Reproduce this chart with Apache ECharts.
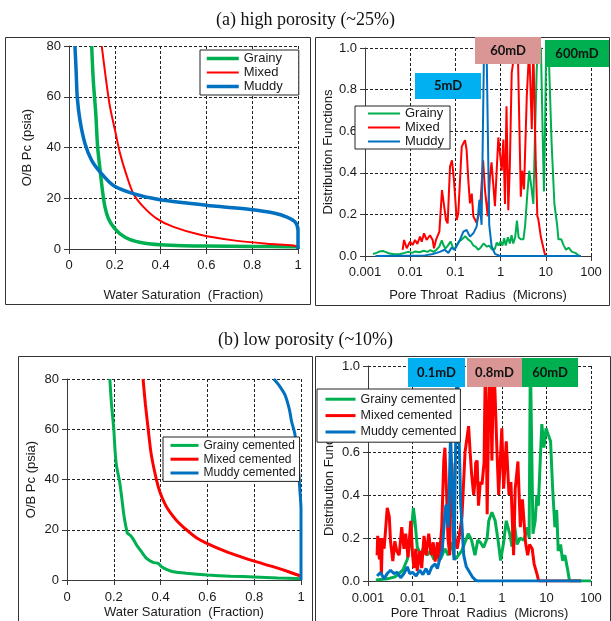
<!DOCTYPE html>
<html><head><meta charset="utf-8">
<script src="https://cdn.jsdelivr.net/npm/echarts@6/dist/echarts.min.js"></script>
<style>html,body{margin:0;padding:0;background:#fff}#c{width:611px;height:621px}</style>
</head><body><div id="c"></div>
<script>
// ---------- tick labels ----------
const satTickLabels = ['0','0.2','0.4','0.6','0.8','1'];
const pcTickLabels = ['0','20','40','60','80'];
const distTickLabels = ['0.0','0.2','0.4','0.6','0.8','1.0'];
const radiusTickLabels = ['0.001','0.01','0.1','1','10','100'];

// ---------- (a) capillary pressure ----------
const swGrainyA = [0.099,0.106,0.117,0.125,0.136,0.146,0.157,0.172,0.194,0.223,0.267,0.325,0.398,0.5,0.6,0.8,1.0,1.0];
const pcGrainyA = [80,66.5,53.3,40.2,31,23.1,16.6,12,8.7,6,3.7,2.4,1.7,1.3,1.2,1.0,0.8,0];
const swMixedA = [0.143,0.162,0.179,0.201,0.223,0.249,0.281,0.325,0.383,0.456,0.573,0.719,0.864,0.981,1.0];
const pcMixedA = [80,66.5,56,46.8,37.6,29.7,21.8,16.6,12,8.7,5.6,3.4,2.1,1.4,0.8];
const swMuddyA = [0.026,0.031,0.036,0.048,0.07,0.099,0.136,0.194,0.281,0.398,0.515,0.631,0.792,0.894,0.952,0.988,1.0,1.0];
const pcMuddyA = [80,70.4,59.9,50.7,41.5,34.9,30.3,25,21.8,19.4,18.1,16.9,15.6,14.2,12.6,10.6,7.4,0];

// ---------- (a) pore throat distributions ----------
const rGrainyA = [0.0015,0.0018,0.0021,0.0025,0.0028,0.0035,0.0045,0.006,0.0075,0.009,0.011,0.013,0.016,0.02,0.024,0.028,0.033,0.038,0.044,0.05,0.055,0.06,0.068,0.078,0.088,0.095,0.105,0.12,0.14,0.165,0.19,0.22,0.25,0.28,0.32,0.36,0.42,0.5,0.56,0.65,0.75,0.82,0.9,1.0,1.1,1.2,1.3,1.45,1.6,1.75,1.9,2.1,2.3,2.5,2.8,3.2,3.5,3.9,4.3,4.8,5.3,5.8,6.3,6.8,7.8,8.5,9.1,9.6,10.2,11.5,13.4,15.5,17.8,19,22,25,28,32,38,45,52,56];
const fGrainyA = [0.01,0.015,0.022,0.024,0.02,0.012,0.008,0.01,0.015,0.02,0.015,0.022,0.018,0.025,0.02,0.028,0.02,0.03,0.045,0.075,0.05,0.035,0.05,0.07,0.04,0.03,0.05,0.07,0.08,0.095,0.08,0.07,0.05,0.045,0.03,0.04,0.06,0.045,0.05,0.03,0.035,0.065,0.05,0.07,0.05,0.085,0.05,0.09,0.06,0.1,0.06,0.09,0.17,0.09,0.08,0.08,0.15,0.3,0.41,0.33,0.25,0.6,0.9,1.0,1.0,0.6,0.31,0.6,1.0,1.0,0.55,0.25,0.15,0.08,0.08,0.05,0.03,0.04,0.02,0.015,0.005,0];
const rMixedA = [0.0068,0.0073,0.0084,0.0099,0.0113,0.0128,0.0144,0.0165,0.018,0.0202,0.0231,0.0274,0.0314,0.0336,0.0372,0.0442,0.0505,0.054,0.062,0.0674,0.076,0.084,0.093,0.107,0.116,0.138,0.163,0.177,0.193,0.21,0.23,0.25,0.295,0.35,0.41,0.45,0.52,0.58,0.63,0.75,0.89,1.06,1.15,1.25,1.35,1.48,1.6,1.76,2.1,2.4,2.8,3.0,3.3,3.8,4.3,4.9,5.3,6.0,6.5,6.8,7.8,9.5,10];
const fMixedA = [0.029,0.077,0.037,0.069,0.053,0.077,0.058,0.093,0.069,0.109,0.077,0.1,0.077,0.037,0.077,0.117,0.317,0.31,0.173,0.157,0.43,0.46,0.365,0.173,0.205,0.526,0.557,0.51,0.365,0.253,0.3,0.19,0.16,0.22,0.46,0.32,0.19,0.38,0.45,0.24,0.57,0.41,0.56,0.25,0.72,0.22,0.43,0.88,1.0,1.0,0.285,0.41,0.32,0.77,1.0,0.61,1.0,0.45,0.19,0.18,0.09,0.01,0];
const rMuddyA = [0.0017,0.021,0.03,0.045,0.058,0.07,0.082,0.096,0.126,0.15,0.177,0.21,0.249,0.295,0.32,0.34,0.38,0.43,0.49,0.56,0.63,0.75,0.97,60];
const fMuddyA = [0,0.003,0.008,0.02,0.03,0.015,0.04,0.03,0.077,0.117,0.125,0.093,0.109,0.141,0.205,0.27,0.15,1.0,1.0,0.15,0.05,0.01,0,0];

// ---------- (b) capillary pressure ----------
const swGrainyB = [0.183,0.19,0.2,0.205,0.211,0.225,0.235,0.243,0.258,0.265,0.278,0.297,0.318,0.34,0.368,0.39,0.404,0.43,0.454,0.51,0.6,0.7,0.8,0.9,1.0];
const pcGrainyB = [80,70,60,52,45.8,39,32,25.9,18.6,18.2,17,14,11.3,8.6,7,6.6,5.3,4,3.3,2.7,2.0,1.5,1.2,0.8,0.5];
const swMixedB = [0.325,0.335,0.347,0.36,0.382,0.397,0.42,0.44,0.47,0.51,0.55,0.6,0.68,0.75,0.8,0.88,0.95,1.0];
const pcMixedB = [80,70,60,50,40,35,30,27,23.5,20,17,14.5,11.3,9,7.5,5.3,3.2,1.5];
const swMuddyB = [0.884,0.91,0.932,0.95,0.96,0.974,0.986,0.995,1.0,1.0];
const pcMuddyB = [80,77,73.6,68,63,58,48,36,28,0];

// ---------- (b) pore throat distributions ----------
const rGrainyB = [0.0015,0.0027,0.0041,0.006,0.0076,0.009,0.0104,0.0113,0.0127,0.015,0.018,0.021,0.025,0.03,0.035,0.042,0.053,0.063,0.074,0.088,0.107,0.126,0.15,0.177,0.21,0.25,0.29,0.33,0.39,0.47,0.51,0.6,0.71,0.85,0.94,1.1,1.26,1.5,1.7,1.84,2.2,2.6,3.1,3.6,3.8,4.1,4.37,4.8,5.0,5.6,6.1,6.6,7.2,7.9,8.8,9.8,11,12.4,13.8,15.5,17,18.4,20.8,23,26,29.5,33,100];
const fGrainyB = [0.005,0.01,0.02,0.05,0.1,0.19,0.34,0.28,0.16,0.12,0.16,0.12,0.14,0.1,0.12,0.1,0.15,0.12,0.18,0.1,0.12,0.14,0.18,0.22,0.19,0.12,0.19,0.18,0.156,0.2,0.28,0.32,0.28,0.17,0.095,0.18,0.28,0.22,0.16,0.29,0.17,0.2,0.19,0.23,0.25,0.2,1.05,1.05,0.22,0.28,0.4,0.35,0.54,0.73,0.62,0.71,0.68,0.65,0.43,0.25,0.33,0.14,0.17,0.095,0.12,0.06,0,0];
const rMixedB = [0.0016,0.00165,0.0017,0.0018,0.0019,0.002,0.0021,0.0023,0.0027,0.003,0.0032,0.0036,0.004,0.0044,0.005,0.0057,0.0064,0.007,0.0079,0.0091,0.01,0.0107,0.0118,0.0127,0.0144,0.016,0.018,0.02,0.023,0.026,0.029,0.032,0.036,0.039,0.045,0.05,0.053,0.058,0.062,0.068,0.072,0.076,0.082,0.09,0.1,0.11,0.128,0.15,0.18,0.195,0.21,0.234,0.25,0.26,0.28,0.3,0.33,0.36,0.4,0.43,0.47,0.51,0.55,0.6,0.66,0.71,0.78,0.85,0.92,1.0,1.1,1.26,1.45,1.6,1.84,2.0,2.3,2.6,2.9,3.4,3.8,4.2,4.8,5.3,6.2,6.7,60];
const fMixedB = [0.12,0.21,0.18,0.1,0.2,0.03,0.2,0.15,0.34,0.3,0.185,0.093,0.185,0.14,0.12,0.25,0.15,0.22,0.11,0.28,0.12,0.06,0.15,0.046,0.14,0.06,0.21,0.12,0.22,0.12,0.18,0.09,0.18,0.09,0.25,0.56,0.62,0.4,0.2,0.12,0.45,0.55,0.3,0.2,0.15,0.2,0.3,0.6,0.72,0.6,0.5,0.4,0.46,0.55,0.56,0.35,0.46,0.45,0.55,1.05,0.31,0.8,1.05,0.56,1.05,1.05,0.6,0.4,0.55,0.71,0.43,0.65,0.4,0.46,0.12,0.43,0.556,0.25,0.38,0.18,0.12,0.17,0.15,0.08,0.03,0,0];
const rMuddyB = [0.0016,0.0019,0.0023,0.0027,0.0032,0.0038,0.0045,0.0054,0.0064,0.0076,0.0086,0.01,0.012,0.0144,0.017,0.02,0.023,0.027,0.032,0.036,0.04,0.046,0.053,0.056,0.063,0.071,0.076,0.085,0.095,0.1,0.11,0.12,0.14,0.16,0.22,0.26,0.3,60];
const fMuddyB = [0.023,0.04,0.01,0.035,0.05,0.035,0.04,0.015,0.035,0.066,0.035,0.04,0.023,0.05,0.03,0.058,0.03,0.066,0.08,0.058,0.097,0.14,0.31,0.355,0.25,0.68,0.5,0.097,0.82,1.05,1.05,0.355,0.12,0.066,0.019,0.003,0,0];

// ---------- permeability tags ----------
const tagsA = ['5mD','60mD','600mD'];
const tagsB = ['0.1mD','0.8mD','60mD'];

const GREEN = '#00B050', RED = '#FF0000', BLUE = '#0070C0';
const TAG_COLORS = ['#00B0F0', '#D99694', '#00B050'];
const FONT = 'Liberation Sans, Arial, sans-serif';
const AXIS_COLOR = '#3a3a3a';
const TXT = '#1a1a1a';

function pairs(xs, ys) { return xs.map((x, i) => [x, ys[i]]); }

function baseAxis(extra) {
  return Object.assign({
    axisLine: { show: true, onZero: false, lineStyle: { color: AXIS_COLOR, width: 1 } },
    axisTick: { show: true, length: 5, inside: false, lineStyle: { color: AXIS_COLOR } },
    splitLine: { show: true, lineStyle: { color: '#222', type: [3, 2], width: 1 } },
    axisLabel: { color: TXT, fontSize: 13, fontFamily: FONT },
    nameLocation: 'middle',
    nameTextStyle: { color: TXT, fontSize: 13, fontFamily: FONT }
  }, extra);
}

function satAxis(grid, gap, lblMargin) {
  return baseAxis({ type: 'value', gridIndex: grid, min: 0, max: 1, interval: 0.2,
    name: 'Water Saturation  (Fraction)', nameGap: gap,
    axisLabel: { color: TXT, fontSize: 13, fontFamily: FONT, margin: lblMargin,
      formatter: v => satTickLabels[Math.round(v / 0.2)] } });
}
function pcAxis(grid, gap) {
  return baseAxis({ type: 'value', gridIndex: grid, min: 0, max: 80, interval: 20,
    name: 'O/B Pc (psia)', nameGap: gap, nameRotate: 90,
    axisLabel: { color: TXT, fontSize: 13, fontFamily: FONT, margin: 8,
      formatter: v => pcTickLabels[Math.round(v / 20)] } });
}
function radAxis(grid, gap, lblMargin) {
  return baseAxis({ type: 'log', logBase: 10, gridIndex: grid, min: 0.001, max: 100,
    name: 'Pore Throat  Radius  (Microns)', nameGap: gap,
    minorTick: { show: false },
    axisLabel: { color: TXT, fontSize: 13, fontFamily: FONT, margin: lblMargin,
      formatter: v => radiusTickLabels[Math.round(Math.log10(v)) + 3] } });
}
function distAxis(grid, gap) {
  return baseAxis({ type: 'value', gridIndex: grid, min: 0, max: 1, interval: 0.2,
    name: 'Distribution Functions', nameGap: gap, nameRotate: 90,
    axisLabel: { color: TXT, fontSize: 13, fontFamily: FONT, margin: 8,
      formatter: v => distTickLabels[Math.round(v / 0.2)] } });
}

function line(name, grid, data, color, width, smooth) {
  return { name, type: 'line', xAxisIndex: grid, yAxisIndex: grid, data,
    symbol: 'none', showSymbol: false, smooth: smooth || false, clip: true,
    lineStyle: { color, width }, itemStyle: { color }, animation: false };
}

function legendItem(name, color, width) {
  return { name, itemStyle: { color: 'rgba(0,0,0,0)', opacity: 0, borderWidth: 0 }, lineStyle: { color, width } };
}

function tagBox(x, y, w, h, fill, text) {
  return { type: 'group', z: 100, children: [
    { type: 'rect', shape: { x, y, width: w, height: h }, style: { fill }, z: 100 },
    { type: 'text', x: x + w / 2, y: y + h / 2, z: 101,
      style: { text, fill: '#111', font: 'bold 13px Lato, "Open Sans", sans-serif', align: 'center', verticalAlign: 'middle' } }
  ] };
}
function frame(x, y, w, h) {
  return { type: 'rect', shape: { x: x + 0.5, y: y + 0.5, width: w, height: h }, z: 0,
    style: { fill: null, stroke: '#333', lineWidth: 1 } };
}

const chart = echarts.init(document.getElementById('c'), null, { renderer: 'canvas' });
const option = {
  animation: false,
  backgroundColor: '#fff',
  title: [
    { text: '(a) high porosity (~25%)', left: 'center', top: 11, padding: 0,
      textStyle: { fontFamily: 'Liberation Serif, Times New Roman, serif', fontSize: 18, fontWeight: 'normal', color: '#111' } },
    { text: '(b) low porosity (~10%)', left: 'center', top: 331, padding: 0,
      textStyle: { fontFamily: 'Liberation Serif, Times New Roman, serif', fontSize: 18, fontWeight: 'normal', color: '#111' } }
  ],
  grid: [
    { left: 69, top: 46, width: 229, height: 203 },
    { left: 365, top: 48, width: 226, height: 208 },
    { left: 67, top: 379, width: 234, height: 201 },
    { left: 368, top: 366, width: 223, height: 216 }
  ],
  xAxis: [ satAxis(0, 40, 10), radAxis(1, 33, 10), satAxis(2, 26, 11), radAxis(3, 26, 11) ],
  yAxis: [ pcAxis(0, 35), distAxis(1, 30), pcAxis(2, 29), distAxis(3, 32) ],
  legend: [
    { orient: 'vertical', left: 200, top: 50, padding: [2, 16, 2, 5], itemGap: 1, itemWidth: 32, itemHeight: 14,
      backgroundColor: '#fff', borderColor: '#222', borderWidth: 1, borderRadius: 0, z: 50,
      textStyle: { color: TXT, fontSize: 13, fontFamily: FONT },
      data: [ legendItem('Grainy', GREEN, 3.5), legendItem('Mixed', RED, 2), legendItem('Muddy', BLUE, 3.5) ] },
    { orient: 'vertical', left: 355, top: 106, padding: [1, 6, 1, 12], itemGap: 1, itemWidth: 32, itemHeight: 12,
      backgroundColor: '#fff', borderColor: '#222', borderWidth: 1, borderRadius: 0, z: 50,
      textStyle: { color: TXT, fontSize: 13, fontFamily: FONT },
      data: [ legendItem('Grainy', GREEN, 2), legendItem('Mixed', RED, 2), legendItem('Muddy', BLUE, 2) ] },
    { orient: 'vertical', left: 163, top: 437, padding: [2, 4, 2, 6], itemGap: 1, itemWidth: 28, itemHeight: 16,
      backgroundColor: '#fff', borderColor: '#222', borderWidth: 1, borderRadius: 0, z: 50,
      textStyle: { color: TXT, fontSize: 12, fontFamily: FONT },
      data: [ legendItem('Grainy cemented', GREEN, 3), legendItem('Mixed cemented', RED, 3), legendItem('Muddy cemented', BLUE, 3) ] },
    { orient: 'vertical', left: 317, top: 389, padding: [3, 4, 3, 7], itemGap: 2, itemWidth: 30, itemHeight: 18,
      backgroundColor: '#fff', borderColor: '#222', borderWidth: 1, borderRadius: 0, z: 50,
      textStyle: { color: TXT, fontSize: 12.5, fontFamily: FONT },
      data: [ legendItem('Grainy cemented', GREEN, 3), legendItem('Mixed cemented', RED, 3), legendItem('Muddy cemented', BLUE, 3) ] }
  ],
  series: [
    line('Grainy', 0, pairs(swGrainyA, pcGrainyA), GREEN, 3.5, 0.3),
    line('Mixed', 0, pairs(swMixedA, pcMixedA), RED, 2, 0.3),
    line('Muddy', 0, pairs(swMuddyA, pcMuddyA), BLUE, 3.5, 0.3),
    line('Grainy', 1, pairs(rGrainyA, fGrainyA), GREEN, 2),
    line('Mixed', 1, pairs(rMixedA, fMixedA), RED, 2),
    line('Muddy', 1, pairs(rMuddyA, fMuddyA), BLUE, 2),
    line('Grainy cemented', 2, pairs(swGrainyB, pcGrainyB), GREEN, 3, 0.2),
    line('Mixed cemented', 2, pairs(swMixedB, pcMixedB), RED, 3, 0.3),
    line('Muddy cemented', 2, pairs(swMuddyB, pcMuddyB), BLUE, 3, 0.3),
    line('Grainy cemented', 3, pairs(rGrainyB, fGrainyB), GREEN, 3),
    line('Mixed cemented', 3, pairs(rMixedB, fMixedB), RED, 3),
    line('Muddy cemented', 3, pairs(rMuddyB, fMuddyB), BLUE, 3)
  ],
  graphic: [
    frame(5, 37, 305, 267),
    frame(315, 37, 294, 268),
    frame(18, 356, 294, 300),
    frame(315, 356, 295, 300),
    tagBox(415, 73, 66, 26, TAG_COLORS[0], tagsA[0]),
    tagBox(475, 37, 66, 27, TAG_COLORS[1], tagsA[1]),
    tagBox(545, 40, 64, 27, TAG_COLORS[2], tagsA[2]),
    tagBox(408, 358, 57, 29, TAG_COLORS[0], tagsB[0]),
    tagBox(467, 358, 55, 29, TAG_COLORS[1], tagsB[1]),
    tagBox(522, 358, 56, 29, TAG_COLORS[2], tagsB[2])
  ]
};
chart.setOption(option);
</script></body></html>
